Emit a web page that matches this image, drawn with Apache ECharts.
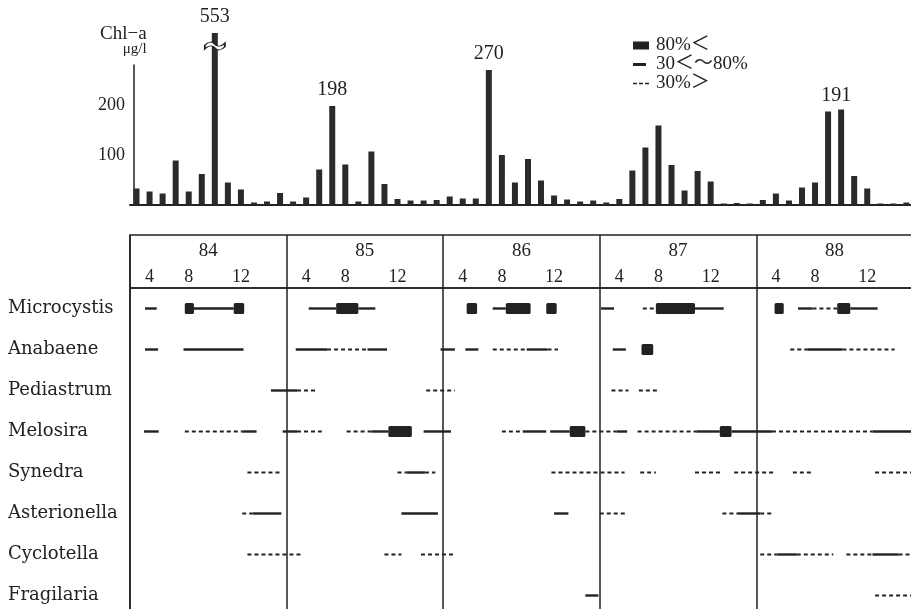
<!DOCTYPE html>
<html>
<head>
<meta charset="utf-8">
<script src="https://cdn.jsdelivr.net/npm/echarts@6/dist/echarts.min.js"></script>
<style>
  html, body { margin: 0; padding: 0; background: #fff; }
  #chart { width: 911px; height: 609px; }
</style>
</head>
<body>
<div id="chart"></div>
<script type="application/javascript">

// monthly Chl-a, 5 seasons x 12 months (84 .. 88)
var chlA = [33, 27, 23, 89, 27, 62, 553, 45, 31, 5, 7, 24,
            7, 15, 71, 198, 81, 7, 107, 42, 12, 9, 9, 10,
            17, 13, 13, 270, 100, 45, 92, 49, 19, 11, 7, 9,
            5, 12, 69, 115, 159, 80, 29, 68, 47, 3, 4, 3,
            10, 23, 9, 35, 45, 187, 191, 58, 33, 3, 3, 5];
var peakIdx = [6, 15, 27, 54];

var years = ['84', '85', '86', '87', '88'];
var monthTickSlot = [1, 4, 8];
var monthTickText = ['4', '8', '12'];

var species = ['Microcystis', 'Anabaene', 'Pediastrum', 'Melosira',
               'Synedra', 'Asterionella', 'Cyclotella', 'Fragilaria'];

// [species row, start month, end month]  (month 0 = start of 84 column)
var over80 = [
  [0, 4.2, 4.9], [0, 7.95, 8.75], [0, 15.8, 17.5], [0, 25.8, 26.6], [0, 28.8, 30.7],
  [0, 31.9, 32.7], [0, 40.3, 43.3], [0, 49.4, 50.1], [0, 54.2, 55.2],
  [1, 39.2, 40.1],
  [3, 19.8, 21.6], [3, 33.7, 34.9], [3, 45.2, 46.1]
];
var from30to80 = [
  [0, 1.15, 2.05], [0, 4.9, 7.95], [0, 13.7, 15.8], [0, 17.5, 18.8], [0, 27.8, 28.8],
  [0, 36.1, 37.1], [0, 43.3, 45.5], [0, 51.2, 52.3], [0, 55.2, 57.3],
  [1, 1.15, 2.15], [1, 4.1, 8.7], [1, 12.7, 15.1], [1, 18.2, 19.7], [1, 23.8, 24.9],
  [1, 25.7, 26.7], [1, 30.4, 32.0], [1, 37.0, 38.0], [1, 51.9, 54.6],
  [2, 10.8, 12.8],
  [3, 1.07, 2.2], [3, 8.6, 9.7], [3, 11.7, 12.8], [3, 18.5, 19.8], [3, 22.5, 24.6],
  [3, 30.1, 31.9], [3, 32.2, 33.7], [3, 37.3, 38.1], [3, 43.4, 45.2], [3, 46.1, 49.2],
  [3, 56.9, 60],
  [4, 21.2, 22.6],
  [5, 9.4, 11.6], [5, 20.8, 23.6], [5, 32.5, 33.6], [5, 46.6, 48.3],
  [6, 49.6, 51.1], [6, 56.9, 58.9],
  [7, 34.9, 35.9]
];
var under30 = [
  [0, 39.3, 40.3], [0, 52.3, 54.2],
  [1, 15.1, 18.2], [1, 27.8, 30.4], [1, 32.0, 32.8], [1, 50.6, 51.9], [1, 54.6, 58.6],
  [2, 12.8, 14.4], [2, 22.7, 24.9], [2, 36.9, 38.2], [2, 39.0, 40.5],
  [3, 4.2, 8.6], [3, 12.8, 14.7], [3, 16.6, 18.5], [3, 28.5, 30.1], [3, 34.9, 37.3],
  [3, 38.9, 43.4], [3, 49.2, 56.9],
  [4, 9.0, 11.6], [4, 20.5, 21.2], [4, 22.6, 23.4], [4, 32.3, 37.9], [4, 39.1, 40.3],
  [4, 43.3, 45.3], [4, 46.3, 49.3], [4, 50.8, 52.3], [4, 57.1, 60],
  [5, 8.6, 9.4], [5, 36.0, 38.0], [5, 45.4, 46.6], [5, 48.3, 49.2],
  [6, 9.0, 13.2], [6, 19.5, 20.8], [6, 22.3, 24.8], [6, 48.3, 49.6], [6, 51.1, 53.9],
  [6, 54.9, 56.9], [6, 58.9, 60],
  [7, 57.1, 60]
];

var ink = '#222';
var serif = "'Liberation Serif', 'Noto Sans CJK JP', serif";

// 62 month slots so the frame runs past the right edge of the page
var slots = [];
for (var i = 0; i < 62; i++) slots.push(String(i));

var barData = chlA.map(function (v, i) {
  if (peakIdx.indexOf(i) < 0) return v;
  return { value: v, label: { show: true, offset: i === 54 ? [-5, 2] : [0, 0] } };
});

function renderBox(params, api) {
  var a = api.coord([api.value(1), api.value(0)]);
  var b = api.coord([api.value(2), api.value(0)]);
  return { type: 'rect', shape: { x: a[0], y: a[1] - 5.5, width: b[0] - a[0], height: 11, r: 1.5 },
           style: { fill: ink } };
}
function renderSolid(params, api) {
  var a = api.coord([api.value(1), api.value(0)]);
  var b = api.coord([api.value(2), api.value(0)]);
  return { type: 'line', shape: { x1: a[0], y1: a[1], x2: b[0], y2: b[1] },
           style: { stroke: ink, lineWidth: 2.4 } };
}
function renderDash(params, api) {
  var a = api.coord([api.value(1), api.value(0)]);
  var b = api.coord([api.value(2), api.value(0)]);
  return { type: 'line', shape: { x1: a[0], y1: a[1], x2: b[0], y2: b[1] },
           style: { stroke: ink, lineWidth: 1.8, lineDash: [4, 3] } };
}

var myChart = echarts.init(document.getElementById('chart'));
var option = {
  backgroundColor: '#fff',
  animation: false,
  textStyle: { fontFamily: serif, color: ink },
  title: {
    left: 100, top: 26, padding: 0,
    text: '{a|Chl−a}\n{b|μg/l}',
    textStyle: {
      fontWeight: 'normal',
      rich: {
        a: { fontFamily: serif, fontSize: 19, lineHeight: 16, color: ink, fontWeight: 'normal' },
        b: { fontFamily: serif, fontSize: 15, lineHeight: 15, color: ink, fontWeight: 'normal', align: 'right' }
      }
    }
  },
  legend: {
    left: 628, top: 31, orient: 'vertical', itemGap: 0, itemWidth: 18, itemHeight: 10,
    selectedMode: false,
    textStyle: { fontFamily: serif, fontSize: 19, color: ink, lineHeight: 18 },
    data: [
      { name: '80%＜', icon: 'path://M0,0M18,10M0,1h16v8h-16z' },
      { name: '30＜～80%', icon: 'path://M0,0M18,10M0,3.5h13v3h-13z' },
      { name: '30%＞', icon: 'path://M0,0M18,10M0,4.2h4v1.6h-4zM6,4.2h4v1.6h-4zM12,4.2h4v1.6h-4z' }
    ]
  },
  grid: [
    { left: 130, width: 809, top: 33, bottom: 404, outerBoundsMode: 'none' },
    { left: 130, width: 809, top: 65, bottom: 404, outerBoundsMode: 'none' },
    { left: 130, width: 809, top: 235, height: 53, outerBoundsMode: 'none',
      show: true, borderColor: ink, borderWidth: 1.5 },
    { left: 130, width: 809, top: 288, height: 328, outerBoundsMode: 'none',
      show: true, borderColor: ink, borderWidth: 1.5 }
  ],
  xAxis: [
    { gridIndex: 0, type: 'category', data: slots, boundaryGap: true,
      axisLine: { lineStyle: { color: ink, width: 2 } }, axisTick: { show: false }, axisLabel: { show: false } },
    { gridIndex: 1, type: 'category', data: slots, show: false },
    { gridIndex: 2, type: 'category', data: slots, position: 'bottom',
      axisLine: { show: false }, axisTick: { show: false },
      axisLabel: { inside: true, margin: 2, interval: 0, fontSize: 18, fontFamily: serif, color: ink,
        formatter: function (v, idx) {
          if (idx >= 60) return '';
          var k = monthTickSlot.indexOf(idx % 12);
          return k < 0 ? '' : monthTickText[k];
        } } },
    { gridIndex: 2, type: 'value', position: 'top', min: 0, max: 62, interval: 6,
      axisLine: { show: false }, axisTick: { show: false }, splitLine: { show: false },
      axisLabel: { inside: true, margin: 7, fontSize: 19, fontFamily: serif, color: ink,
        showMinLabel: false, showMaxLabel: false,
        formatter: function (v) { return v % 12 === 6 ? years[(v - 6) / 12] : ''; } } },
    { gridIndex: 2, type: 'value', min: 0, max: 62, interval: 12,
      axisLine: { show: false }, axisTick: { show: false }, axisLabel: { show: false },
      splitLine: { show: true, lineStyle: { color: ink, width: 1.5 } } },
    { gridIndex: 3, type: 'value', min: 0, max: 62, interval: 12,
      axisLine: { show: false }, axisTick: { show: false }, axisLabel: { show: false },
      splitLine: { show: true, lineStyle: { color: ink, width: 1.5 } } }
  ],
  yAxis: [
    { gridIndex: 0, type: 'value', min: 0, max: 344, show: false },
    { gridIndex: 1, type: 'value', min: 0, max: 280, interval: 100, offset: -4,
      axisLine: { show: true, lineStyle: { color: ink, width: 1.5 } },
      axisTick: { show: false }, splitLine: { show: false },
      axisLabel: { fontSize: 18, fontFamily: serif, color: ink, margin: 9,
        showMinLabel: false, showMaxLabel: false } },
    { gridIndex: 2, type: 'value', show: false },
    { gridIndex: 3, type: 'category', data: species, inverse: true,
      axisLine: { show: false }, axisTick: { show: false }, splitLine: { show: false },
      axisLabel: { align: 'left', margin: 122, fontSize: 18, fontFamily: "'DejaVu Serif', serif", color: ink } }
  ],
  series: [
    {
      type: 'bar', xAxisIndex: 0, yAxisIndex: 0, data: barData, barWidth: 6,
      itemStyle: { color: '#2a2a2a' },
      label: { show: false, position: 'top', distance: 6, fontSize: 20, fontFamily: serif, color: ink },
      markPoint: {
        silent: true,
        label: { show: false },
        data: [{ coord: [6, 318], symbol: 'path://M0,3C4,-1 8,-1 10,2C12,5 16,5 20,1L20,5C16,9 12,9 10,6C8,3 4,3 0,7Z',
                 symbolSize: [20, 8], itemStyle: { color: '#fff', borderColor: ink, borderWidth: 1.2 } }]
      }
    },
    { name: '30%＞', type: 'custom', xAxisIndex: 5, yAxisIndex: 3, data: under30,
      encode: { x: [1, 2], y: 0 }, renderItem: renderDash, itemStyle: { color: ink } },
    { name: '30＜～80%', type: 'custom', xAxisIndex: 5, yAxisIndex: 3, data: from30to80,
      encode: { x: [1, 2], y: 0 }, renderItem: renderSolid, itemStyle: { color: ink } },
    { name: '80%＜', type: 'custom', xAxisIndex: 5, yAxisIndex: 3, data: over80,
      encode: { x: [1, 2], y: 0 }, renderItem: renderBox, itemStyle: { color: ink } }
  ]
};

option && myChart.setOption(option);
</script>
</body>
</html>
